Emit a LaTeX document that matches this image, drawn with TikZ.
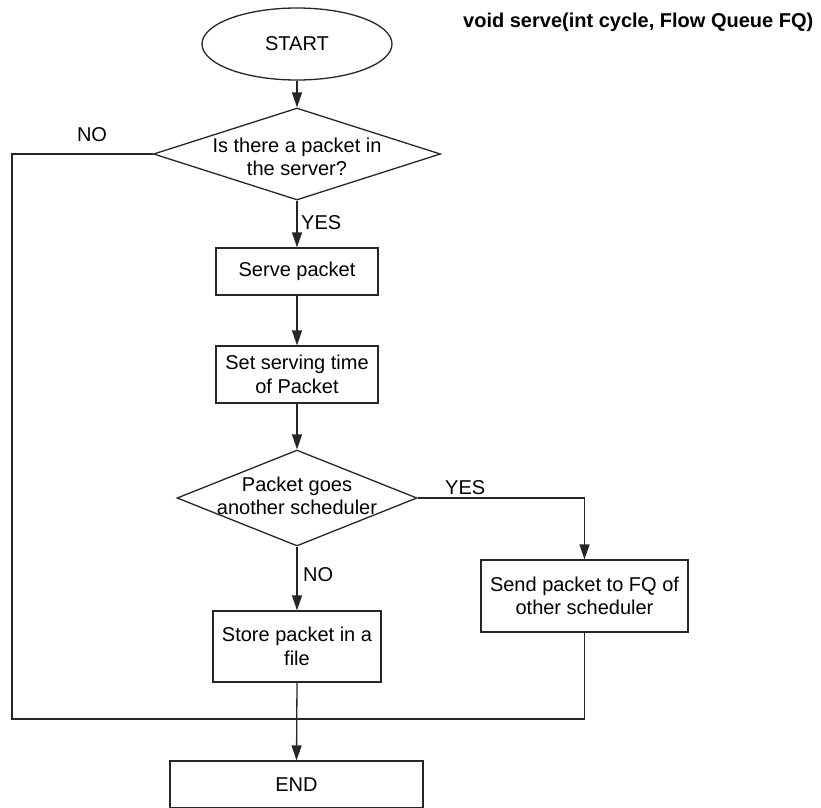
\documentclass[tikz,border=0pt]{standalone}
\usepackage{fontspec}
\setmainfont{Liberation Sans}
\usetikzlibrary{shapes.geometric,arrows.meta}
\begin{document}
\begin{tikzpicture}[x=1pt,y=-1pt,
  every node/.style={font=\fontsize{20}{23.5}\selectfont, inner sep=0pt, text=black},
  line/.style={line width=1.3pt, draw=black!85},
  arr/.style={line, -{Triangle[length=15pt,width=10pt]}},
  stepbox/.style={rectangle, draw=black!85, line width=1.3pt, align=center},
  decision/.style={diamond, draw=black!85, line width=1.3pt},
  terminal/.style={ellipse, draw=black!85, line width=1.3pt},
  lbl/.style={anchor=west}
]
\clip (0,0) rectangle (821,807);
\useasboundingbox (0,0) rectangle (821,807);

% heading
\node[anchor=west, font=\fontsize{20}{23.5}\selectfont\bfseries] (title) at (463,22)
  {void serve(int cycle, Flow Queue FQ)};

% shapes
\node[terminal, minimum width=190pt, minimum height=72pt] (start) at (297,44) {};
\node at (start) {START};

\node[decision, minimum width=287pt, minimum height=92pt] (d1) at (297,154) {};
\node[align=center] (d1t) at (297,157) {Is there a packet in\\the server?};

\node[stepbox, minimum width=162pt, minimum height=47pt] (serve) at (297,271.5) {Serve packet};
\node[stepbox, minimum width=162pt, minimum height=57pt] (set) at (297,374.5) {Set serving time\\of Packet};

\node[decision, minimum width=240pt, minimum height=96pt] (d2) at (297,498) {};
\node[align=center] (d2t) at (297,496) {Packet goes\\another scheduler};

\node[stepbox, minimum width=168pt, minimum height=71pt] (store) at (297,646.5) {Store packet in a\\file};
\node[stepbox, minimum width=207pt, minimum height=72pt] (send) at (584.5,596) {Send packet to FQ of\\other scheduler};
\node[stepbox, minimum width=253pt, minimum height=47pt] (end) at (296.5,784.5) {END};

% connectors
\draw[arr] (start.south) -- (d1.north);
\draw[arr] (d1.south) -- (serve.north);
\draw[arr] (serve.south) -- (set.north);
\draw[arr] (set.south) -- (d2.north);
\draw[arr] (d2.south) -- (store.north);
\draw[arr] (d2.east) -| (send.north);
\draw[arr] (store.south) -- (end.north);

\coordinate (lb) at (12,719);
\draw[line] (d1.west) -| (lb) -| (send.south);

% branch labels
\node (no1) at (92,135) {NO};
\node[lbl] (yes1) at (301,223) {YES};
\node[lbl] (yes2) at (445,488) {YES};
\node[lbl] (no2) at (303,575) {NO};
\end{tikzpicture}
\end{document}
